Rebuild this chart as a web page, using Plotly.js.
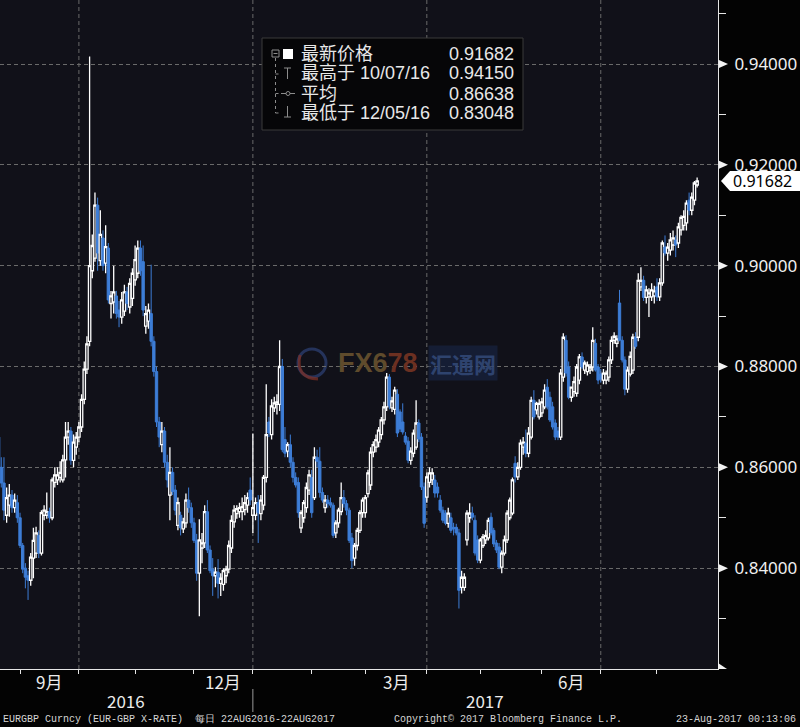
<!DOCTYPE html>
<html>
<head>
<meta charset="utf-8">
<script src="https://cdn.plot.ly/plotly-3.0.1.min.js"></script>
<style>
html,body{margin:0;padding:0;background:#000;}
#chart{width:800px;height:727px;}
</style>
</head>
<body>
<div id="chart"></div>
<script>
// ---------------- DATA ----------------
const firstDay = '2016-08-22';
const lastDay = '2017-08-22';

const openPx = [
.8660,.8600,.8569,.8505,.8525,.8545,.8520,.8530,.8500,.8445,
.8400,.8385,.8376,.8420,.8430,.8465,.8430,.8505,.8505,.8512,
.8500,.8570,.8575,.8580,.8575,.8615,.8660,.8672,.8614,.8640,
.8660,.8680,.8735,.8795,.8850,.8990,.9015,.9120,.9010,.9055,
.9005,.9035,.8925,.8928,.8940,.8912,.8898,.8910,.8948,.8918,
.8935,.8972,.8985,.9035,.9008,.8880,.8890,.8905,.8850,.8790,
.8690,.8645,.8672,.8610,.8545,.8590,.8555,.8485,.8505,.8478,
.8490,.8535,.8520,.8490,.8455,.8390,.8440,.8450,.8512,.8436,
.8398,.8385,.8392,.8370,.8368,.8385,.8398,.8440,.8492,.8508,
.8512,.8512,.8516,.8525,.8555,.8505,.8505,.8530,.8508,.8525,
.8580,.8690,.8665,.8718,.8725,.8725,.8800,.8655,.8632,.8645,
.8610,.8580,.8570,.8480,.8500,.8520,.8555,.8580,.8540,.8620,
.8612,.8550,.8520,.8535,.8530,.8525,.8470,.8490,.8512,.8540,
.8528,.8515,.8460,.8420,.8445,.8475,.8510,.8510,.8548,.8565,
.8630,.8640,.8650,.8665,.8694,.8720,.8779,.8718,.8715,.8745,
.8710,.8690,.8662,.8652,.8614,.8628,.8640,.8688,.8660,.8561,
.8541,.8570,.8575,.8575,.8561,.8535,.8515,.8509,.8489,.8500,
.8481,.8481,.8470,.8362,.8362,.8456,.8500,.8509,.8495,.8456,
.8416,.8445,.8456,.8460,.8501,.8475,.8450,.8442,.8402,.8430,
.8456,.8500,.8509,.8608,.8581,.8600,.8640,.8648,.8628,.8660,
.8733,.8714,.8700,.8708,.8720,.8759,.8739,.8720,.8688,.8672,
.8660,.8779,.8852,.8799,.8739,.8750,.8747,.8773,.8819,.8793,
.8790,.8793,.8799,.8846,.8799,.8785,.8773,.8773,.8779,.8813,
.8852,.8846,.8926,.8852,.8813,.8755,.8785,.8793,.8858,.8858,
.8958,.8971,.8937,.8938,.8938,.8940,.8958,.8938,.8966,.9037,
.9025,.9031,.9041,.9051,.9045,.9071,.9080,.9085,.9130,.9110,
.9130,.9160
];

const highPx = [
.8684,.8620,.8620,.8560,.8567,.8555,.8548,.8545,.8510,.8450,
.8410,.8395,.8430,.8480,.8482,.8475,.8515,.8525,.8550,.8520,
.8580,.8600,.8600,.8612,.8625,.8690,.8690,.8680,.8665,.8670,
.8690,.8745,.8810,.8860,.9415,.9062,.9145,.9135,.9110,.9070,
.9080,.9045,.8950,.9000,.8950,.8930,.8948,.8962,.8958,.8975,
.8995,.9040,.9050,.9050,.9040,.8920,.8925,.9002,.8860,.8800,
.8700,.8690,.8680,.8625,.8640,.8600,.8565,.8540,.8512,.8500,
.8548,.8560,.8530,.8500,.8468,.8497,.8470,.8525,.8535,.8445,
.8420,.8402,.8418,.8390,.8400,.8405,.8455,.8505,.8525,.8525,
.8530,.8540,.8545,.8550,.8580,.8667,.8540,.8545,.8545,.8585,
.8765,.8700,.8735,.8740,.8745,.8852,.8815,.8680,.8650,.8665,
.8620,.8590,.8580,.8515,.8535,.8570,.8595,.8595,.8640,.8635,
.8640,.8560,.8545,.8545,.8540,.8530,.8495,.8520,.8570,.8555,
.8535,.8520,.8470,.8450,.8480,.8515,.8540,.8545,.8595,.8640,
.8652,.8665,.8680,.8700,.8730,.8787,.8785,.8740,.8760,.8755,
.8715,.8727,.8670,.8660,.8640,.8675,.8733,.8695,.8668,.8570,
.8590,.8600,.8598,.8585,.8570,.8545,.8522,.8515,.8520,.8510,
.8490,.8488,.8478,.8395,.8390,.8515,.8529,.8522,.8505,.8465,
.8460,.8468,.8475,.8500,.8510,.8480,.8456,.8450,.8435,.8465,
.8515,.8540,.8580,.8622,.8610,.8655,.8660,.8675,.8680,.8740,
.8753,.8730,.8735,.8738,.8765,.8775,.8750,.8730,.8695,.8680,
.8795,.8866,.8862,.8810,.8760,.8780,.8805,.8825,.8828,.8812,
.8810,.8805,.8878,.8855,.8805,.8795,.8795,.8792,.8820,.8860,
.8868,.8862,.8952,.8860,.8820,.8800,.8830,.8865,.8868,.8985,
.8997,.8980,.8960,.8955,.8965,.8960,.8975,.8975,.9050,.9060,
.9045,.9065,.9070,.9060,.9085,.9100,.9110,.9130,.9145,.9145,
.9168,.9175
];

const lowPx = [
.8594,.8560,.8495,.8490,.8502,.8510,.8510,.8490,.8440,.8390,
.8360,.8337,.8365,.8380,.8420,.8420,.8425,.8495,.8498,.8490,
.8495,.8560,.8565,.8570,.8570,.8580,.8645,.8605,.8600,.8625,
.8650,.8670,.8725,.8785,.8840,.8975,.9008,.8990,.9000,.8990,
.8985,.8925,.8895,.8905,.8895,.8878,.8885,.8900,.8912,.8905,
.8920,.8960,.8975,.8980,.8900,.8865,.8875,.8840,.8780,.8680,
.8640,.8630,.8600,.8560,.8495,.8545,.8505,.8475,.8465,.8470,
.8480,.8510,.8480,.8450,.8375,.83048,.8410,.8440,.8430,.8390,
.8345,.8362,.8340,.8345,.8355,.8370,.8390,.8430,.8480,.8498,
.8500,.8495,.8505,.8510,.8525,.8470,.8495,.8450,.8495,.8515,
.8570,.8660,.8655,.8710,.8705,.8712,.8630,.8620,.8620,.8600,
.8570,.8560,.8500,.8470,.8490,.8510,.8545,.8500,.8535,.8600,
.8540,.8530,.8510,.8520,.8520,.8460,.8460,.8480,.8505,.8520,
.8505,.8450,.8400,.8405,.8435,.8470,.8500,.8500,.8540,.8555,
.8620,.8630,.8640,.8655,.8685,.8712,.8715,.8710,.8705,.8660,
.8670,.8665,.8645,.8608,.8605,.8620,.8635,.8650,.8555,.8480,
.8530,.8560,.8565,.8540,.8540,.8510,.8490,.8485,.8480,.8470,
.8465,.8465,.8320,.8350,.8355,.8445,.8490,.8495,.8425,.8410,
.8410,.8440,.8448,.8455,.8465,.8442,.8430,.8398,.8390,.8425,
.8450,.8495,.8505,.8570,.8575,.8595,.8625,.8620,.8620,.8655,
.8695,.8705,.8695,.8700,.8715,.8715,.8690,.8675,.8654,.8654,
.8654,.8770,.8780,.8735,.8730,.8740,.8740,.8765,.8795,.8785,
.8782,.8785,.8790,.8790,.8765,.8768,.8765,.8765,.8770,.8805,
.8845,.8838,.8850,.8808,.8743,.8748,.8780,.8785,.8835,.8850,
.8950,.8930,.8925,.8898,.8930,.8925,.8930,.8930,.8960,.9020,
.9010,.9020,.9030,.9017,.9035,.9060,.9070,.9070,.9100,.9100,
.9120,.9155
];

const closePx = [
.8600,.8569,.8515,.8540,.8545,.8520,.8535,.8500,.8445,.8398,
.8382,.8376,.8422,.8455,.8470,.8430,.8510,.8515,.8512,.8500,
.8575,.8585,.8585,.8590,.8615,.8660,.8672,.8614,.8650,.8660,
.8680,.8735,.8795,.8845,.9000,.9040,.9120,.9025,.9062,.9000,
.9038,.8932,.8940,.8948,.8905,.8898,.8932,.8948,.8925,.8965,
.8985,.9012,.9035,.8990,.8912,.8905,.8912,.8850,.8790,.8690,
.8660,.8672,.8610,.8575,.8590,.8552,.8515,.8530,.8480,.8492,
.8535,.8520,.8490,.8455,.8390,.8456,.8450,.8512,.8436,.8395,
.8385,.8392,.8370,.8380,.8395,.8398,.8445,.8495,.8515,.8518,
.8520,.8522,.8530,.8540,.8535,.8520,.8530,.8510,.8535,.8580,
.8665,.8668,.8722,.8728,.8730,.8800,.8635,.8628,.8645,.8610,
.8580,.8565,.8510,.8510,.8530,.8560,.8585,.8510,.8620,.8612,
.8550,.8535,.8535,.8528,.8525,.8465,.8490,.8515,.8540,.8528,
.8515,.8455,.8415,.8445,.8475,.8510,.8535,.8540,.8589,.8630,
.8645,.8655,.8674,.8694,.8720,.8779,.8722,.8732,.8753,.8668,
.8676,.8670,.8650,.8614,.8632,.8668,.8688,.8656,.8561,.8489,
.8581,.8589,.8589,.8549,.8549,.8515,.8495,.8489,.8509,.8475,
.8478,.8470,.8356,.8382,.8382,.8509,.8509,.8501,.8430,.8416,
.8456,.8462,.8465,.8495,.8470,.8448,.8436,.8402,.8430,.8456,
.8509,.8535,.8575,.8581,.8600,.8648,.8650,.8628,.8668,.8733,
.8700,.8727,.8727,.8730,.8753,.8720,.8694,.8680,.8660,.8660,
.8787,.8858,.8787,.8739,.8759,.8770,.8799,.8819,.8799,.8807,
.8803,.8799,.8852,.8793,.8773,.8775,.8787,.8787,.8813,.8852,
.8860,.8855,.8852,.8813,.8755,.8793,.8820,.8858,.8840,.8971,
.8971,.8937,.8952,.8946,.8952,.8950,.8938,.8966,.9045,.9025,
.9037,.9051,.9055,.9041,.9077,.9096,.9098,.9124,.9110,.9136,
.9164,.91682
];

const yTicks = [0.84, 0.86, 0.88, 0.90, 0.92, 0.94];
const yMinorTicks = [0.83, 0.85, 0.87, 0.89, 0.91, 0.93, 0.95];
const monthLabels = {'2016-09':'9月','2016-12':'12月','2017-03':'3月','2017-06':'6月'};
const gridMonths = ['2016-10','2017-01','2017-04','2017-07'];
const yearLabels = ['2016','2017'];

const legendLabels = ['最新价格', '最高于 10/07/16', '平均', '最低于 12/05/16'];
const legendValues = ['0.91682', '0.94150', '0.86638', '0.83048'];
const lastPriceText = '0.91682';
const footLeft = 'EURGBP Curncy (EUR-GBP X-RATE)  每日 22AUG2016-22AUG2017';
const footMid = 'Copyright© 2017 Bloomberg Finance L.P.';
const footRight = '23-Aug-2017 00:13:06';

// ---------------- trading-day calendar (weekdays) ----------------
const dates = [];
(function(){
  let t = Date.parse(firstDay + 'T00:00:00Z');
  const end = Date.parse(lastDay + 'T00:00:00Z');
  while (t <= end) {
    const d = new Date(t);
    const wd = d.getUTCDay();
    if (wd !== 0 && wd !== 6) dates.push(d.toISOString().slice(0,10));
    t += 86400000;
  }
})();
const idx = dates.map((_, i) => i);

const monthStart = {};
const monthOrder = [];
dates.forEach((d, i) => {
  const m = d.slice(0,7);
  if (!(m in monthStart)) { monthStart[m] = i; monthOrder.push(m); }
});
const monthTickIdx = monthOrder.slice(1).map(m => monthStart[m]);

// ---------------- geometry helpers ----------------
const PW = 718, PH = 669;
const X_RANGE = [0.52, 268.8];
const Y_RANGE = [0.8200, 0.9527];
const px = x => x / PW;
const py = y => 1 - y / PH;

function nextMonthStart(m) {
  const k = monthOrder.indexOf(m);
  return (k + 1 < monthOrder.length) ? monthStart[monthOrder[k+1]] : X_RANGE[1];
}

const shapes = [];
const annotations = [];

gridMonths.forEach(m => {
  shapes.push({type:'line', xref:'x', yref:'paper', x0:monthStart[m], x1:monthStart[m], y0:0, y1:1,
    line:{color:'#6a6a6a', width:1, dash:'4px,3px'}, layer:'below'});
});
const yearSplit = monthStart['2017-01'];
shapes.push({type:'line', xref:'x', yref:'paper', x0:yearSplit, x1:yearSplit, y0:py(689), y1:py(712),
  line:{color:'#9a9a9a', width:1}});

yTicks.forEach(v => {
  shapes.push({type:'path', xref:'paper', yref:'y', xsizemode:'pixel', ysizemode:'pixel',
    xanchor:1, yanchor:v, path:'M1,-4 L10,0 L1,4 Z', fillcolor:'#f2f2f2', line:{width:0}});
});
shapes.push({type:'path', xref:'paper', yref:'paper', xsizemode:'pixel', ysizemode:'pixel',
  xanchor:1, yanchor:0, path:'M0,0 L0,6 L9,0 Z', fillcolor:'#f2f2f2', line:{width:0}});

const lastClose = closePx[closePx.length - 1];
shapes.push({type:'path', xref:'paper', yref:'y', xsizemode:'pixel', ysizemode:'pixel',
  xanchor:1, yanchor:lastClose, path:'M3,0 L12,-10 L95,-10 L95,10 L12,10 Z', fillcolor:'#ffffff', line:{width:0}});
annotations.push({xref:'paper', yref:'y', x:px(731), y:lastClose, xanchor:'left', yanchor:'middle',
  text:lastPriceText, showarrow:false, font:{family:'Noto Sans', size:16, color:'#000'}});

// legend box
shapes.push({type:'rect', xref:'paper', yref:'paper', x0:px(262), x1:px(523), y0:py(130), y1:py(38),
  fillcolor:'#060608', line:{color:'#3a3a3a', width:1}});
const gl = {color:'#8c8c8c', width:1};
shapes.push({type:'rect', xref:'paper', yref:'paper', x0:px(272), x1:px(279), y0:py(57), y1:py(50), line:gl});
shapes.push({type:'line', xref:'paper', yref:'paper', x0:px(273.5), x1:px(277.5), y0:py(53.5), y1:py(53.5), line:gl});
shapes.push({type:'rect', xref:'paper', yref:'paper', x0:px(283), x1:px(293), y0:py(59), y1:py(49), fillcolor:'#ffffff', line:{width:0}});
shapes.push({type:'line', xref:'paper', yref:'paper', x0:px(275.5), x1:px(275.5), y0:py(58), y1:py(113), line:{color:'#8c8c8c', width:1, dash:'dot'}});
[74, 93.5, 113].forEach(y => shapes.push({type:'line', xref:'paper', yref:'paper', x0:px(275.5), x1:px(281), y0:py(y), y1:py(y), line:{color:'#8c8c8c', width:1, dash:'dot'}}));
shapes.push({type:'line', xref:'paper', yref:'paper', x0:px(284), x1:px(291), y0:py(68), y1:py(68), line:gl});
shapes.push({type:'line', xref:'paper', yref:'paper', x0:px(287.5), x1:px(287.5), y0:py(68), y1:py(79), line:gl});
shapes.push({type:'line', xref:'paper', yref:'paper', x0:px(281), x1:px(295), y0:py(93.5), y1:py(93.5), line:gl});
shapes.push({type:'circle', xref:'paper', yref:'paper', x0:px(286), x1:px(290), y0:py(95.5), y1:py(91.5), fillcolor:'#060608', line:gl});
shapes.push({type:'line', xref:'paper', yref:'paper', x0:px(287.5), x1:px(287.5), y0:py(106), y1:py(117), line:gl});
shapes.push({type:'line', xref:'paper', yref:'paper', x0:px(284), x1:px(291), y0:py(117), y1:py(117), line:gl});

const rowY = [54, 73.5, 93.5, 113];
legendLabels.forEach((lab, k) => {
  annotations.push({xref:'paper', yref:'paper', x:px(299), y:py(rowY[k]), xanchor:'left', yanchor:'middle',
    text:lab, showarrow:false, font:{family:'Liberation Sans, Noto Sans CJK SC', size:18, color:'#e8e8e8'}});
  annotations.push({xref:'paper', yref:'paper', x:px(516), y:py(rowY[k]), xanchor:'right', yanchor:'middle',
    text:legendValues[k], showarrow:false, font:{family:'Liberation Sans', size:18, color:'#e8e8e8'}});
});

// watermark
shapes.push({type:'circle', xref:'paper', yref:'paper', x0:px(298), x1:px(326), y0:py(377), y1:py(349),
  line:{color:'rgba(45,65,120,0.7)', width:3}, layer:'below'});
shapes.push({type:'path', xref:'paper', yref:'paper', layer:'below',
  path:`M${px(300)},${py(355)} Q${px(295)},${py(378)} ${px(318)},${py(379)}`,
  line:{color:'rgba(130,48,35,0.7)', width:3}});
annotations.push({xref:'paper', yref:'paper', x:px(378), y:py(363), xanchor:'center', yanchor:'middle', showarrow:false,
  text:'<b><span style="color:#5f4b2c">FX6</span><span style="color:#6c3021">78</span></b>',
  font:{family:'Liberation Sans Narrow, Liberation Sans', size:27, color:'#5f4b2c'}});
annotations.push({xref:'paper', yref:'paper', x:px(463), y:py(363), xanchor:'center', yanchor:'middle', showarrow:false,
  text:'<b>汇通网</b>', bgcolor:'rgba(25,40,75,0.55)',
  font:{family:'Noto Sans CJK SC', size:22, color:'rgba(55,80,130,0.75)'}});

// month & year labels
Object.keys(monthLabels).forEach(m => {
  const mid = (monthStart[m] + nextMonthStart(m)) / 2;
  annotations.push({xref:'x', yref:'paper', x:mid, y:py(681), xanchor:'center', yanchor:'middle', showarrow:false,
    text:monthLabels[m], font:{family:'Noto Sans CJK SC', size:17, color:'#ececec'}});
});
const yearMid = [ (X_RANGE[0] + yearSplit)/2, (yearSplit + X_RANGE[1])/2 ];
yearLabels.forEach((t, k) => {
  annotations.push({xref:'x', yref:'paper', x:yearMid[k], y:py(700), xanchor:'center', yanchor:'middle', showarrow:false,
    text:t, font:{family:'Noto Sans CJK SC', size:17, color:'#ececec'}});
});

// footer
const footFont = {family:'Liberation Mono, DejaVu Sans Mono, monospace', size:10, color:'#d6d6d6'};
annotations.push({xref:'paper', yref:'paper', x:px(1), y:py(719), xanchor:'left', yanchor:'middle', showarrow:false, text:footLeft, font:footFont});
annotations.push({xref:'paper', yref:'paper', x:px(392), y:py(719), xanchor:'left', yanchor:'middle', showarrow:false, text:footMid, font:footFont});
annotations.push({xref:'paper', yref:'paper', x:px(798), y:py(719), xanchor:'right', yanchor:'middle', showarrow:false, text:footRight, font:footFont});

// ---------------- plot ----------------
const trace = {
  type:'candlestick', x:idx, open:openPx, high:highPx, low:lowPx, close:closePx,
  text: dates, hoverinfo:'skip',
  increasing:{line:{color:'#ffffff', width:1.3}, fillcolor:'#111119'},
  decreasing:{line:{color:'#3d7dd6', width:1}, fillcolor:'#3d7dd6'},
  whiskerwidth:0
};

const layout = {
  width:800, height:727,
  margin:{l:0, r:82, t:0, b:58, pad:0},
  paper_bgcolor:'#030303',
  plot_bgcolor:'#111119',
  showlegend:false,
  boxgap:0.12, boxgroupgap:0,
  xaxis:{
    range:X_RANGE, rangeslider:{visible:false}, showgrid:false, zeroline:false,
    showline:true, linecolor:'#e6e6e6', linewidth:1,
    tickmode:'array', tickvals:monthTickIdx, ticks:'outside', ticklen:4, tickcolor:'#e6e6e6',
    showticklabels:false, fixedrange:true, automargin:false
  },
  yaxis:{
    side:'right', range:Y_RANGE, zeroline:false, automargin:false, fixedrange:true,
    tickmode:'array', tickvals:yTicks, ticktext:yTicks.map(v => v.toFixed(5)),
    showgrid:true, gridcolor:'#6a6a6a', gridwidth:1, griddash:'4px,3px',
    showline:true, linecolor:'#e6e6e6', linewidth:1,
    ticks:'outside', ticklen:12, tickcolor:'rgba(0,0,0,0)',
    tickfont:{family:'Noto Sans', size:17, color:'#f0f0f0'},
    minor:{tickmode:'array', tickvals:yMinorTicks, ticks:'outside', ticklen:7, tickcolor:'#e6e6e6', showgrid:false}
  },
  shapes:shapes,
  annotations:annotations
};

Plotly.newPlot('chart', [trace], layout, {staticPlot:true, displayModeBar:false});
</script>
</body>
</html>
